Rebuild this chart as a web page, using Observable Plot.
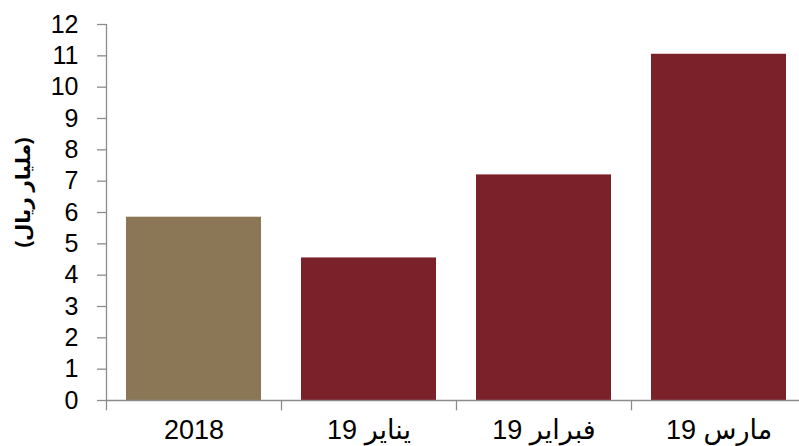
<!DOCTYPE html>
<html><head><meta charset="utf-8">
<script src="https://cdn.jsdelivr.net/npm/d3@7"></script>
<script src="https://cdn.jsdelivr.net/npm/@observablehq/plot@0.6"></script>
<style>
body{margin:0;background:#fff;overflow:hidden}
svg{font-family:"Liberation Sans",Arial,"DejaVu Sans",sans-serif}
</style>
</head><body><div id="chart"></div>
<script>
const categories = ["2018", "يناير 19", "فبراير 19", "مارس 19"];
const values = [5.85, 4.55, 7.2, 11.05];
const colors = ["#8B7756", "#7B212A", "#7B212A", "#7B212A"];
const yTicks = [0, 1, 2, 3, 4, 5, 6, 7, 8, 9, 10, 11, 12];
const yLabel = "(مليار ريال)";

const data = categories.map((c, i) => ({cat: c, value: values[i], color: colors[i]}));
const axisColor = "#8c8c8c";
const half = 87.5;

const chart = Plot.plot({
  width: 799,
  height: 446,
  marginTop: 24,
  marginBottom: 46,
  marginLeft: 106,
  marginRight: 0,
  style: {background: "#fff", color: "#000", fontSize: "25px"},
  x: {domain: categories, range: [106, 806], padding: 0, label: null, axis: null},
  y: {domain: [0, 12], label: null, axis: null},
  marks: [
    Plot.barY(data, {x: "cat", y: "value", fill: "color", insetLeft: 20, insetRight: 20}),
    Plot.ruleY([0], {stroke: axisColor, strokeWidth: 1.3}),
    Plot.ruleX(categories, {x: d => d, y1: d => (d === categories[0] ? 12 : 0), y2: -0.33, dx: -half, stroke: axisColor, strokeWidth: 1.3}),
    Plot.axisY({ticks: yTicks, tickSize: 9, tickPadding: 19, tickFormat: d => String(d), stroke: axisColor, strokeWidth: 1.3, fontSize: 25, fill: "#000", label: null}),
    Plot.axisX({tickSize: 0, tickPadding: 19, fontSize: 27, fill: "#000", label: null}),
    Plot.text([yLabel], {frameAnchor: "left", textAnchor: "middle", text: d => d, rotate: -90, dx: -83, dy: -20, fontSize: 20, fontWeight: "bold", fill: "#000"})
  ]
});
document.getElementById("chart").appendChild(chart);
d3.select(chart).selectAll("text").each(function() {
  if (/[\u0600-\u06FF]/.test(this.textContent) && /\d/.test(this.textContent)) this.setAttribute("direction", "rtl");
});
</script>
</body></html>
